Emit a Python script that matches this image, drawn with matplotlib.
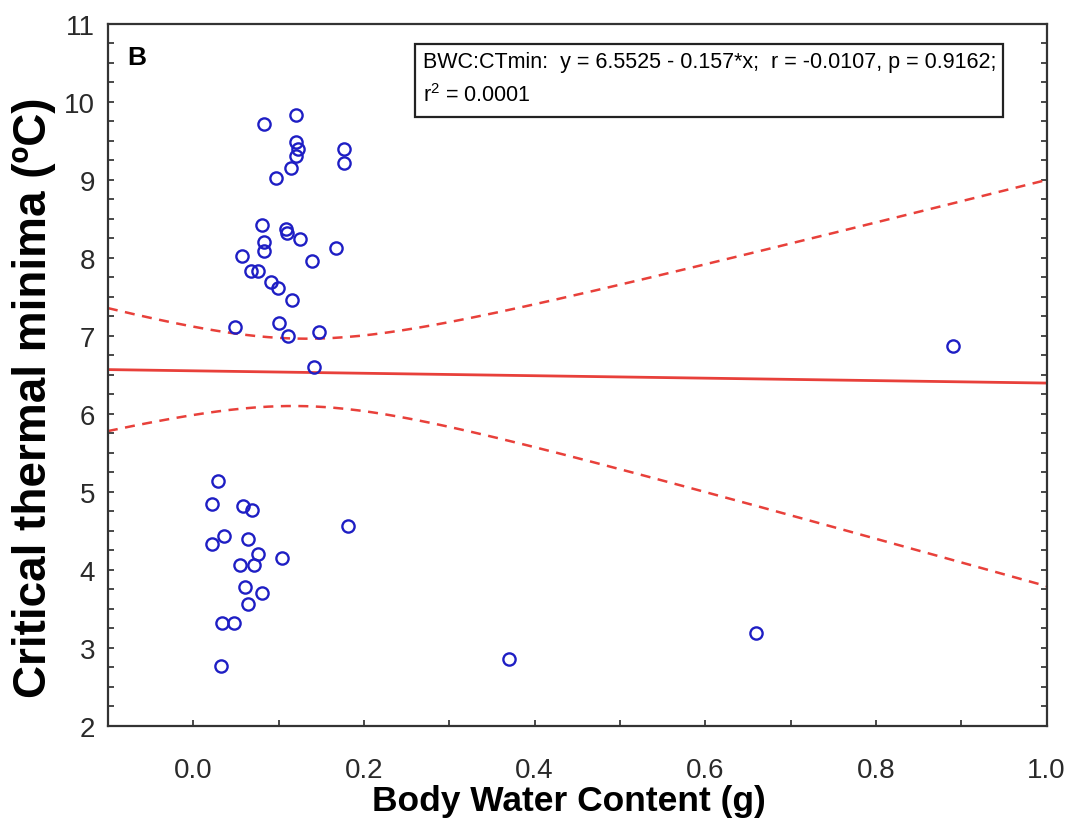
import numpy as np
import matplotlib
matplotlib.use("Agg")
import matplotlib.pyplot as plt
from matplotlib.patches import Rectangle
from matplotlib.ticker import MultipleLocator, FormatStrFormatter

plt.rcParams['font.family'] = ['Liberation Sans', 'DejaVu Sans']

# Body water content (g) and critical thermal minimum (deg C) per individual
bwc = [0.120, 0.083, 0.120, 0.123, 0.120, 0.115, 0.097, 0.177, 0.177,
       0.081, 0.109, 0.110, 0.125, 0.083, 0.083, 0.167, 0.057, 0.139,
       0.068, 0.076, 0.091, 0.099, 0.116, 0.049, 0.101, 0.111, 0.147,
       0.142, 0.890,
       0.029, 0.022, 0.058, 0.069, 0.181, 0.022, 0.036, 0.064, 0.076,
       0.104, 0.055, 0.071, 0.061, 0.081, 0.064, 0.034, 0.048, 0.032,
       0.370, 0.660]
ctmin = [9.83, 9.72, 9.49, 9.40, 9.31, 9.15, 9.03, 9.40, 9.21,
         8.42, 8.37, 8.32, 8.24, 8.21, 8.09, 8.13, 8.03, 7.96,
         7.83, 7.83, 7.69, 7.62, 7.46, 7.12, 7.17, 7.00, 7.05,
         6.60, 6.87,
         5.14, 4.85, 4.82, 4.77, 4.56, 4.33, 4.43, 4.40, 4.21,
         4.15, 4.06, 4.06, 3.78, 3.71, 3.56, 3.32, 3.32, 2.77,
         2.86, 3.19]

# Reported fit
intercept = 6.5525
slope = -0.157
r_value = -0.0107
p_value = 0.9162
r_squared = 0.0001

# Multiplier applied to the standard error of the fitted mean for the band
band_mult = 1.33

x = np.asarray(bwc)
y = np.asarray(ctmin)
n = len(x)

resid = y - (intercept + slope * x)
se = np.sqrt(np.sum(resid ** 2) / (n - 2))
xbar = x.mean()
sxx = np.sum((x - xbar) ** 2)
xs = np.linspace(-0.1, 1.0, 300)
fit = intercept + slope * xs
half = band_mult * se * np.sqrt(1.0 / n + (xs - xbar) ** 2 / sxx)

fig = plt.figure(figsize=(10.68, 8.28), dpi=100)
ax = fig.add_axes([0.101, 0.122, 0.879, 0.848])

red = '#e8403a'
ax.plot(xs, fit, color=red, lw=2.0, zorder=2)
ax.plot(xs, fit + half, color=red, lw=1.8, ls=(0, (4, 3)), zorder=2)
ax.plot(xs, fit - half, color=red, lw=1.8, ls=(0, (4, 3)), zorder=2)

ax.plot(x, y, ls='none', marker='o', ms=8.8, mfc='none', mec='#1e1ec4',
        mew=1.7, zorder=3)

ax.set_xlim(-0.1, 1.0)
ax.set_ylim(2, 11)
ax.xaxis.set_major_locator(MultipleLocator(0.2))
ax.xaxis.set_minor_locator(MultipleLocator(0.1))
ax.yaxis.set_major_locator(MultipleLocator(1))
ax.yaxis.set_minor_locator(MultipleLocator(0.25))
ax.xaxis.set_major_formatter(FormatStrFormatter('%.1f'))
ax.tick_params(which='both', direction='in', top=False, right=True,
               labelsize=20, colors='#2a2a2a', length=4, width=1.2)
ax.tick_params(axis='x', pad=22)
ax.tick_params(axis='y', pad=9)
for s in ax.spines.values():
    s.set_linewidth(1.6)
    s.set_color('#333333')

ax.set_xlabel('Body Water Content (g)', fontsize=25.5, fontweight='bold')
ax.xaxis.set_label_coords(0.491, -0.082)
fig.text(34 / 1068, 1 - 398 / 828, 'Critical thermal minima (ºC)',
         fontsize=33, fontweight='bold', rotation=90,
         ha='center', va='center')

ax.text(0.021, 0.953, 'B', transform=ax.transAxes, fontsize=19,
        fontweight='bold', va='center', ha='left')

# Fit summary box
ax.add_patch(Rectangle((0.327, 0.8675), 0.626, 0.104, transform=ax.transAxes,
                       fc='white', ec='#222222', lw=1.6, zorder=4))
line1 = 'BWC:CTmin:  y = %.4f - %.3f*x;  r = %.4f, p = %.4f;' % (
    intercept, -slope, r_value, p_value)
line2 = '$\\mathregular{r^2}$ = %.4f' % r_squared
ax.text(0.3355, 0.946, line1, transform=ax.transAxes, fontsize=15.5,
        va='center', ha='left', zorder=5)
ax.text(0.3355, 0.899, line2, transform=ax.transAxes, fontsize=15.5,
        va='center', ha='left', zorder=5)

fig.savefig('out.png', dpi=100)
